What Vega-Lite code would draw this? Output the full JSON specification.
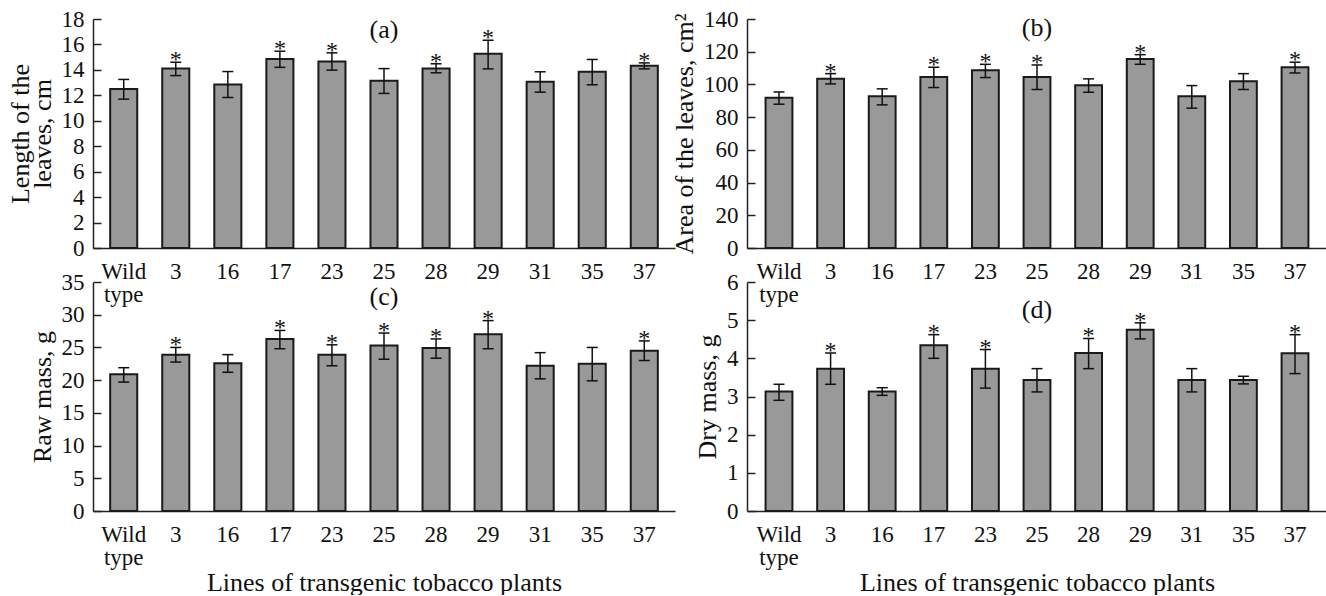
{
  "$schema": "https://vega.github.io/schema/vega-lite/v6.json",
  "padding": {"left": 7, "top": 8, "right": 0, "bottom": 0},
  "bounds": "flush",
  "columns": 2,
  "spacing": {"row": 34, "column": 72},
  "datasets": {
    "a": [
      {"line": "Wild type", "value": 12.5, "lo": 11.7, "hi": 13.25, "sig": false},
      {"line": "3", "value": 14.1, "lo": 13.55, "hi": 14.6, "sig": true},
      {"line": "16", "value": 12.85, "lo": 11.83, "hi": 13.87, "sig": false},
      {"line": "17", "value": 14.85, "lo": 14.2, "hi": 15.47, "sig": true},
      {"line": "23", "value": 14.66, "lo": 13.98, "hi": 15.34, "sig": true},
      {"line": "25", "value": 13.14, "lo": 12.15, "hi": 14.1, "sig": false},
      {"line": "28", "value": 14.1, "lo": 13.77, "hi": 14.48, "sig": true},
      {"line": "29", "value": 15.26, "lo": 14.08, "hi": 16.33, "sig": true},
      {"line": "31", "value": 13.06, "lo": 12.25, "hi": 13.85, "sig": false},
      {"line": "35", "value": 13.85, "lo": 12.83, "hi": 14.82, "sig": false},
      {"line": "37", "value": 14.32, "lo": 14.08, "hi": 14.55, "sig": true}
    ],
    "b": [
      {"line": "Wild type", "value": 91.8, "lo": 87.9, "hi": 95.4, "sig": false},
      {"line": "3", "value": 103.4, "lo": 100.3, "hi": 106.6, "sig": true},
      {"line": "16", "value": 92.8, "lo": 87.5, "hi": 97.3, "sig": false},
      {"line": "17", "value": 104.6, "lo": 98.1, "hi": 110.5, "sig": true},
      {"line": "23", "value": 108.7, "lo": 104.2, "hi": 112.3, "sig": true},
      {"line": "25", "value": 104.6, "lo": 96.9, "hi": 111.9, "sig": true},
      {"line": "28", "value": 99.5, "lo": 95.2, "hi": 103.4, "sig": false},
      {"line": "29", "value": 115.6, "lo": 112.3, "hi": 118.2, "sig": true},
      {"line": "31", "value": 92.8, "lo": 85.5, "hi": 99.3, "sig": false},
      {"line": "35", "value": 102.0, "lo": 96.9, "hi": 106.6, "sig": false},
      {"line": "37", "value": 110.5, "lo": 107.0, "hi": 113.6, "sig": true}
    ],
    "c": [
      {"line": "Wild type", "value": 20.9, "lo": 19.7, "hi": 21.9, "sig": false},
      {"line": "3", "value": 23.9, "lo": 22.76, "hi": 25.0, "sig": true},
      {"line": "16", "value": 22.6, "lo": 21.2, "hi": 23.9, "sig": false},
      {"line": "17", "value": 26.3, "lo": 24.8, "hi": 27.6, "sig": true},
      {"line": "23", "value": 23.9, "lo": 22.2, "hi": 25.4, "sig": true},
      {"line": "25", "value": 25.3, "lo": 23.2, "hi": 27.2, "sig": true},
      {"line": "28", "value": 24.9, "lo": 23.35, "hi": 26.3, "sig": true},
      {"line": "29", "value": 27.0, "lo": 24.8, "hi": 29.1, "sig": true},
      {"line": "31", "value": 22.2, "lo": 20.2, "hi": 24.2, "sig": false},
      {"line": "35", "value": 22.5, "lo": 19.9, "hi": 25.0, "sig": false},
      {"line": "37", "value": 24.5, "lo": 23.0, "hi": 26.0, "sig": true}
    ],
    "d": [
      {"line": "Wild type", "value": 3.13, "lo": 2.9, "hi": 3.32, "sig": false},
      {"line": "3", "value": 3.73, "lo": 3.32, "hi": 4.14, "sig": true},
      {"line": "16", "value": 3.13, "lo": 3.03, "hi": 3.23, "sig": false},
      {"line": "17", "value": 4.34, "lo": 4.0, "hi": 4.62, "sig": true},
      {"line": "23", "value": 3.73, "lo": 3.22, "hi": 4.23, "sig": true},
      {"line": "25", "value": 3.43, "lo": 3.12, "hi": 3.73, "sig": false},
      {"line": "28", "value": 4.14, "lo": 3.73, "hi": 4.52, "sig": true},
      {"line": "29", "value": 4.75, "lo": 4.51, "hi": 4.93, "sig": true},
      {"line": "31", "value": 3.43, "lo": 3.12, "hi": 3.73, "sig": false},
      {"line": "35", "value": 3.43, "lo": 3.33, "hi": 3.53, "sig": false},
      {"line": "37", "value": 4.13, "lo": 3.6, "hi": 4.62, "sig": true}
    ]
  },
  "concat": [
    {
      "width": 582, "height": 229,
      "data": {"name": "a"},
      "title": {"text": "(a)", "offset": -35},
      "encoding": {
        "x": {"field": "line", "type": "nominal", "sort": null,
              "scale": {"paddingInner": 0.48, "paddingOuter": 0.33},
              "axis": {"title": null, "labelExpr": "datum.label == 'Wild type' ? ['Wild', 'type'] : datum.label"}}
      },
      "layer": [
        {"mark": {"type": "bar", "fill": "#999999", "stroke": "#1a1a1a", "strokeWidth": 2},
         "encoding": {"y": {"field": "value", "type": "quantitative",
           "scale": {"domain": [0, 18], "nice": false},
           "axis": {"values": [0, 2, 4, 6, 8, 10, 12, 14, 16, 18], "title": ["Length of the", "leaves, cm"]}}}},
        {"mark": {"type": "rule", "color": "#111111", "strokeWidth": 1.5},
         "encoding": {"y": {"field": "lo", "type": "quantitative", "axis": {"values": [0, 2, 4, 6, 8, 10, 12, 14, 16, 18], "title": ["Length of the", "leaves, cm"]}}, "y2": {"field": "hi"}}},
        {"mark": {"type": "tick", "orient": "horizontal", "size": 11, "thickness": 1.5, "color": "#111111", "opacity": 1},
         "encoding": {"y": {"field": "lo", "type": "quantitative", "axis": {"values": [0, 2, 4, 6, 8, 10, 12, 14, 16, 18], "title": ["Length of the", "leaves, cm"]}}}},
        {"mark": {"type": "tick", "orient": "horizontal", "size": 11, "thickness": 1.5, "color": "#111111", "opacity": 1},
         "encoding": {"y": {"field": "hi", "type": "quantitative", "axis": {"values": [0, 2, 4, 6, 8, 10, 12, 14, 16, 18], "title": ["Length of the", "leaves, cm"]}}}},
        {"transform": [{"filter": "datum.sig"}],
         "mark": {"type": "text", "text": "*", "font": "Liberation Serif", "fontSize": 24, "baseline": "alphabetic", "dy": 5, "color": "#111111"},
         "encoding": {"y": {"field": "hi", "type": "quantitative", "axis": {"values": [0, 2, 4, 6, 8, 10, 12, 14, 16, 18], "title": ["Length of the", "leaves, cm"]}}}}
      ]
    },
    {
      "width": 580, "height": 229,
      "data": {"name": "b"},
      "title": {"text": "(b)", "offset": -33},
      "encoding": {
        "x": {"field": "line", "type": "nominal", "sort": null,
              "scale": {"paddingInner": 0.48, "paddingOuter": 0.36},
              "axis": {"title": null, "labelExpr": "datum.label == 'Wild type' ? ['Wild', 'type'] : datum.label"}}
      },
      "layer": [
        {"mark": {"type": "bar", "fill": "#999999", "stroke": "#1a1a1a", "strokeWidth": 2},
         "encoding": {"y": {"field": "value", "type": "quantitative",
           "scale": {"domain": [0, 140], "nice": false},
           "axis": {"values": [0, 20, 40, 60, 80, 100, 120, 140], "title": "Area of the leaves, cm²"}}}},
        {"mark": {"type": "rule", "color": "#111111", "strokeWidth": 1.5},
         "encoding": {"y": {"field": "lo", "type": "quantitative", "axis": {"values": [0, 20, 40, 60, 80, 100, 120, 140], "title": "Area of the leaves, cm²"}}, "y2": {"field": "hi"}}},
        {"mark": {"type": "tick", "orient": "horizontal", "size": 11, "thickness": 1.5, "color": "#111111", "opacity": 1},
         "encoding": {"y": {"field": "lo", "type": "quantitative", "axis": {"values": [0, 20, 40, 60, 80, 100, 120, 140], "title": "Area of the leaves, cm²"}}}},
        {"mark": {"type": "tick", "orient": "horizontal", "size": 11, "thickness": 1.5, "color": "#111111", "opacity": 1},
         "encoding": {"y": {"field": "hi", "type": "quantitative", "axis": {"values": [0, 20, 40, 60, 80, 100, 120, 140], "title": "Area of the leaves, cm²"}}}},
        {"transform": [{"filter": "datum.sig"}],
         "mark": {"type": "text", "text": "*", "font": "Liberation Serif", "fontSize": 24, "baseline": "alphabetic", "dy": 5, "color": "#111111"},
         "encoding": {"y": {"field": "hi", "type": "quantitative", "axis": {"values": [0, 20, 40, 60, 80, 100, 120, 140], "title": "Area of the leaves, cm²"}}}}
      ]
    },
    {
      "width": 582, "height": 229,
      "data": {"name": "c"},
      "title": {"text": "(c)", "offset": -39},
      "encoding": {
        "x": {"field": "line", "type": "nominal", "sort": null,
              "scale": {"paddingInner": 0.48, "paddingOuter": 0.33},
              "axis": {"title": "Lines of transgenic tobacco plants", "labelExpr": "datum.label == 'Wild type' ? ['Wild', 'type'] : datum.label"}}
      },
      "layer": [
        {"mark": {"type": "bar", "fill": "#999999", "stroke": "#1a1a1a", "strokeWidth": 2},
         "encoding": {"y": {"field": "value", "type": "quantitative",
           "scale": {"domain": [0, 35], "nice": false},
           "axis": {"values": [0, 5, 10, 15, 20, 25, 30, 35], "title": "Raw mass, g"}}}},
        {"mark": {"type": "rule", "color": "#111111", "strokeWidth": 1.5},
         "encoding": {"y": {"field": "lo", "type": "quantitative", "axis": {"values": [0, 5, 10, 15, 20, 25, 30, 35], "title": "Raw mass, g"}}, "y2": {"field": "hi"}}},
        {"mark": {"type": "tick", "orient": "horizontal", "size": 11, "thickness": 1.5, "color": "#111111", "opacity": 1},
         "encoding": {"y": {"field": "lo", "type": "quantitative", "axis": {"values": [0, 5, 10, 15, 20, 25, 30, 35], "title": "Raw mass, g"}}}},
        {"mark": {"type": "tick", "orient": "horizontal", "size": 11, "thickness": 1.5, "color": "#111111", "opacity": 1},
         "encoding": {"y": {"field": "hi", "type": "quantitative", "axis": {"values": [0, 5, 10, 15, 20, 25, 30, 35], "title": "Raw mass, g"}}}},
        {"transform": [{"filter": "datum.sig"}],
         "mark": {"type": "text", "text": "*", "font": "Liberation Serif", "fontSize": 24, "baseline": "alphabetic", "dy": 5, "color": "#111111"},
         "encoding": {"y": {"field": "hi", "type": "quantitative", "axis": {"values": [0, 5, 10, 15, 20, 25, 30, 35], "title": "Raw mass, g"}}}}
      ]
    },
    {
      "width": 580, "height": 229,
      "data": {"name": "d"},
      "title": {"text": "(d)", "offset": -52},
      "encoding": {
        "x": {"field": "line", "type": "nominal", "sort": null,
              "scale": {"paddingInner": 0.48, "paddingOuter": 0.36},
              "axis": {"title": "Lines of transgenic tobacco plants", "labelExpr": "datum.label == 'Wild type' ? ['Wild', 'type'] : datum.label"}}
      },
      "layer": [
        {"mark": {"type": "bar", "fill": "#999999", "stroke": "#1a1a1a", "strokeWidth": 2},
         "encoding": {"y": {"field": "value", "type": "quantitative",
           "scale": {"domain": [0, 6], "nice": false},
           "axis": {"values": [0, 1, 2, 3, 4, 5, 6], "title": "Dry mass, g"}}}},
        {"mark": {"type": "rule", "color": "#111111", "strokeWidth": 1.5},
         "encoding": {"y": {"field": "lo", "type": "quantitative", "axis": {"values": [0, 1, 2, 3, 4, 5, 6], "title": "Dry mass, g"}}, "y2": {"field": "hi"}}},
        {"mark": {"type": "tick", "orient": "horizontal", "size": 11, "thickness": 1.5, "color": "#111111", "opacity": 1},
         "encoding": {"y": {"field": "lo", "type": "quantitative", "axis": {"values": [0, 1, 2, 3, 4, 5, 6], "title": "Dry mass, g"}}}},
        {"mark": {"type": "tick", "orient": "horizontal", "size": 11, "thickness": 1.5, "color": "#111111", "opacity": 1},
         "encoding": {"y": {"field": "hi", "type": "quantitative", "axis": {"values": [0, 1, 2, 3, 4, 5, 6], "title": "Dry mass, g"}}}},
        {"transform": [{"filter": "datum.sig"}],
         "mark": {"type": "text", "text": "*", "font": "Liberation Serif", "fontSize": 24, "baseline": "alphabetic", "dy": 5, "color": "#111111"},
         "encoding": {"y": {"field": "hi", "type": "quantitative", "axis": {"values": [0, 1, 2, 3, 4, 5, 6], "title": "Dry mass, g"}}}}
      ]
    }
  ],
  "config": {
    "font": "Liberation Serif",
    "background": "#ffffff",
    "view": {"stroke": null},
    "axis": {
      "labelFont": "Liberation Serif", "titleFont": "Liberation Serif",
      "labelFontSize": 23, "titleFontSize": 26, "titleFontWeight": "normal",
      "labelColor": "#111111", "titleColor": "#111111",
      "domainColor": "#222222", "domainWidth": 1.5,
      "tickColor": "#222222", "tickWidth": 1.5, "grid": false,
      "labelOverlap": false
    },
    "axisX": {"ticks": false, "labelAngle": 0, "labelPadding": 12, "labelBaseline": "top", "labelLineHeight": 23, "titlePadding": 0, "titleFontSize": 26},
    "axisY": {"tickSize": -8, "labelPadding": 17, "titlePadding": 6, "titleLineHeight": 22},
    "title": {"font": "Liberation Serif", "fontSize": 26, "fontWeight": "normal", "color": "#111111", "anchor": "middle", "frame": "group", "baseline": "alphabetic"}
  }
}
